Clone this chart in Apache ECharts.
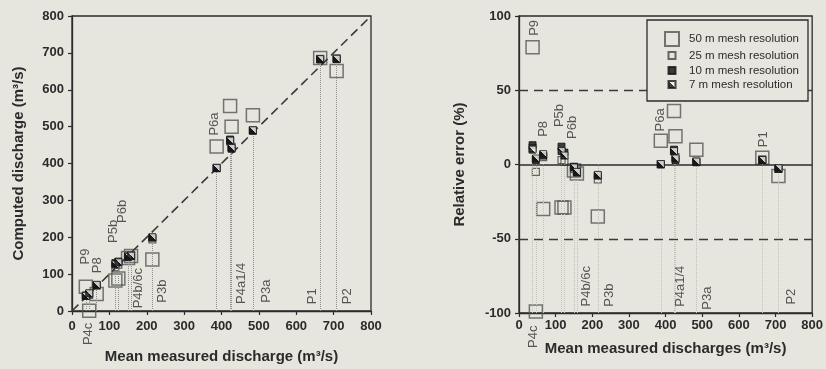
<!DOCTYPE html>
<html>
<head>
<meta charset="utf-8">
<script src="https://cdn.jsdelivr.net/npm/echarts@6/dist/echarts.min.js"></script>
<style>
html, body { margin: 0; padding: 0; background: #e6e6de; }
#chart { width: 826px; height: 369px; }
</style>
</head>
<body>
<div id="chart"></div>
<script>
// gauging sites, ordered by mean measured discharge (m3/s)
const sites    = ['P9', 'P4c', 'P8', 'P5b', 'P6b', 'P4b', 'P6c', 'P3b', 'P6a', 'P4a1', 'P4', 'P3a', 'P1', 'P2']
const measured = [37, 46, 66, 116, 124, 150, 158, 215, 387, 423, 427, 484, 664, 708]

// computed discharge (m3/s) per mesh resolution, left panel
const q50 = [66, 0.5, 46, 83, 88, 144, 149, 140, 446, 556, 500, 531, 686, 651]
const q25 = [41, 44, 69, 119, 126, 146, 150, 194, 388, 460, 445, 490, 684, 685]
const q10 = [42, 47, 70, 130, 134, 148, 149, 199, 387, 465, 440, 489, 682, 683]
const q7  = [41, 48, 71, 126, 132, 147, 150, 200, 388, 462, 442, 490, 683, 684]

// relative error (%) per mesh resolution, right panel
const e50 = [79, -99, -30, -29, -29, -4, -6, -35, 16, 36, 19, 10, 4.5, -7.7]
const e25 = [11, -5, 5, 3, 2, -3, -5, -10, 0.3, 9, 5, 2, 3.5, -3]
const e10 = [13, 3, 6, 12, 8, -1.5, -5.5, -7.5, 0, 10, 3, 1.5, 3, -3]
const e7  = [10, 4, 7, 9, 6, -2, -5, -7, 0.3, 9, 4, 2, 3, -2.5]

// site annotations (anchor in data units)
const tags   = ['P9', 'P8', 'P5b', 'P6b', 'P4b/6c', 'P3b', 'P6a', 'P4a1/4', 'P3a', 'P1', 'P2', 'P4c']
const tagLx  = [37, 67, 110, 136, 179, 243, 382, 452, 521, 644, 738, 43]
const tagLy  = [148, 124, 216, 270, 62, 54, 507, 75, 54, 40, 40, -62]
const tagRx  = [43, 66, 111, 145, 183, 247, 387, 441, 513, 667, 743, 39]
const tagRy  = [92, 24, 33, 25, -82, -88, 30, -82, -90, 17, -89, -116]

const resNames = ['50 m mesh resolution', '25 m mesh resolution', '10 m mesh resolution', '7 m mesh resolution']

const bg = '#e6e6de'
const ink = '#2b2b2b'
const font = 'Liberation Sans, Arial, sans-serif'

// half black / half white square for the 7 m markers
const halfFill = new echarts.graphic.LinearGradient(0, 1, 1, 0, [
  { offset: 0, color: '#111' }, { offset: 0.5, color: '#111' },
  { offset: 0.5, color: '#f2f2f2' }, { offset: 1, color: '#f2f2f2' }
])

const markerStyles = [
  { symbolSize: 13, itemStyle: { color: 'rgba(0,0,0,0)', borderColor: '#555', borderWidth: 1.5 } },
  { symbolSize: 7, itemStyle: { color: 'rgba(0,0,0,0)', borderColor: '#444', borderWidth: 1.2 } },
  { symbolSize: 7, itemStyle: { color: '#111', borderColor: '#111', borderWidth: 1 } },
  { symbolSize: 7, itemStyle: { color: halfFill, borderColor: '#1a1a1a', borderWidth: 1 } }
]

const pair = (xs, ys) => xs.map((x, i) => [x, ys[i]])

function xAx(grid, name, margin, nameGap) {
  return {
    gridIndex: grid, type: 'value', min: 0, max: 800, interval: 100,
    axisLine: { onZero: false, lineStyle: { color: ink, width: 1.3 } },
    axisTick: { length: 4, lineStyle: { color: ink, width: 1.2 } },
    axisLabel: { margin: margin, color: ink, fontSize: 13, fontWeight: 'bold', fontFamily: font },
    splitLine: { show: false },
    name: name, nameLocation: 'middle', nameGap: nameGap,
    nameTextStyle: { color: ink, fontSize: 15, fontWeight: 'bold', fontFamily: font }
  }
}
function yAx(grid, name, min, max, interval, nameGap) {
  return {
    gridIndex: grid, type: 'value', min: min, max: max, interval: interval,
    axisLine: { onZero: false, lineStyle: { color: ink, width: 1.3 } },
    axisTick: { length: 4, lineStyle: { color: ink, width: 1.2 } },
    axisLabel: { margin: 8, color: ink, fontSize: 13, fontWeight: 'bold', fontFamily: font },
    splitLine: { show: false },
    name: name, nameLocation: 'middle', nameGap: nameGap,
    nameTextStyle: { color: ink, fontSize: 15, fontWeight: 'bold', fontFamily: font }
  }
}

function markerSeries(grid, sets) {
  return sets.map((ys, k) => ({
    name: resNames[k], type: 'scatter', xAxisIndex: grid, yAxisIndex: grid,
    symbol: 'rect', symbolSize: markerStyles[k].symbolSize,
    itemStyle: markerStyles[k].itemStyle,
    data: pair(measured, ys), z: 3 + k, silent: true
  }))
}

function tagSeries(grid, xs, ys) {
  return {
    type: 'scatter', xAxisIndex: grid, yAxisIndex: grid, clip: false, silent: true,
    symbolSize: 1, itemStyle: { color: 'rgba(0,0,0,0)' }, z: 8,
    label: { show: true, position: 'inside', rotate: 90, formatter: '{b}',
      color: '#303030', fontSize: 13, fontFamily: font },
    data: tags.map((t, i) => ({ name: t, value: [xs[i], ys[i]] }))
  }
}

const noSym = { symbol: ['none', 'none'], silent: true, label: { show: false }, animation: false }

// legend: one legend per row so each icon keeps its own size
const legendRows = [
  { top: 31, left: 664, w: 14, pad: 5 },
  { top: 49.5, left: 667.5, w: 7, pad: 8.5 },
  { top: 64.5, left: 667.5, w: 7, pad: 8.5 },
  { top: 78.5, left: 667.5, w: 7, pad: 8.5 }
]

const chart = echarts.init(document.getElementById('chart'))
chart.setOption({
  backgroundColor: bg,
  animation: false,
  textStyle: { fontFamily: font },
  grid: [
    { left: 72, top: 16, width: 299, height: 297, show: true, borderColor: ink, borderWidth: 1.3, backgroundColor: 'transparent' },
    { left: 519, top: 16, width: 295, height: 297, show: true, borderColor: ink, borderWidth: 1.3, backgroundColor: 'transparent' }
  ],
  xAxis: [
    xAx(0, 'Mean measured discharge (m³/s)', 9, 38),
    xAx(1, 'Mean measured discharges (m³/s)', 6, 28)
  ],
  yAxis: [
    yAx(0, 'Computed discharge (m³/s)', 0, 800, 100, 46),
    yAx(1, 'Relative error (%)', -100, 100, 50, 52)
  ],
  legend: legendRows.map((r, k) => ({
    data: [resNames[k]], orient: 'vertical', left: r.left, top: r.top, padding: 0,
    itemWidth: r.w, itemHeight: r.w, selectedMode: false, z: 20,
    textStyle: { color: ink, fontSize: 11.5, fontFamily: font, padding: [0, 0, 0, r.pad] }
  })),
  graphic: [{
    type: 'rect', z: 10, silent: true,
    shape: { x: 647, y: 20, width: 161, height: 81 },
    style: { fill: bg, stroke: ink, lineWidth: 1.3 }
  }],
  series: [
    // guide lines, left panel
    {
      type: 'line', xAxisIndex: 0, yAxisIndex: 0, data: [], z: 1,
      markLine: Object.assign({}, noSym, {
        data: [
          [{ coord: [0, 0], lineStyle: { type: [9, 5], color: '#3a3a3a', width: 1.6 } }, { coord: [800, 800] }]
        ].concat(measured.map((x, i) => [
          { coord: [x, 0], lineStyle: { type: 'dotted', color: '#8f8f8a', width: 1 } },
          { coord: [x, q10[i]] }
        ]))
      })
    },
    // guide lines, right panel
    {
      type: 'line', xAxisIndex: 1, yAxisIndex: 1, data: [], z: 1,
      markLine: Object.assign({}, noSym, {
        data: [
          { yAxis: 50, lineStyle: { type: [9, 6], color: '#3a3a3a', width: 1.4 } },
          { yAxis: -50, lineStyle: { type: [9, 6], color: '#3a3a3a', width: 1.4 } },
          { yAxis: 0, lineStyle: { type: 'solid', color: ink, width: 1.5 } }
        ].concat(measured.map(x => [
          { coord: [x, -100], lineStyle: { type: 'dotted', color: '#c2c2bb', width: 1 } },
          { coord: [x, 0] }
        ]))
      })
    },
    ...markerSeries(0, [q50, q25, q10, q7]),
    ...markerSeries(1, [e50, e25, e10, e7]),
    tagSeries(0, tagLx, tagLy),
    tagSeries(1, tagRx, tagRy)
  ]
})
</script>
</body>
</html>
